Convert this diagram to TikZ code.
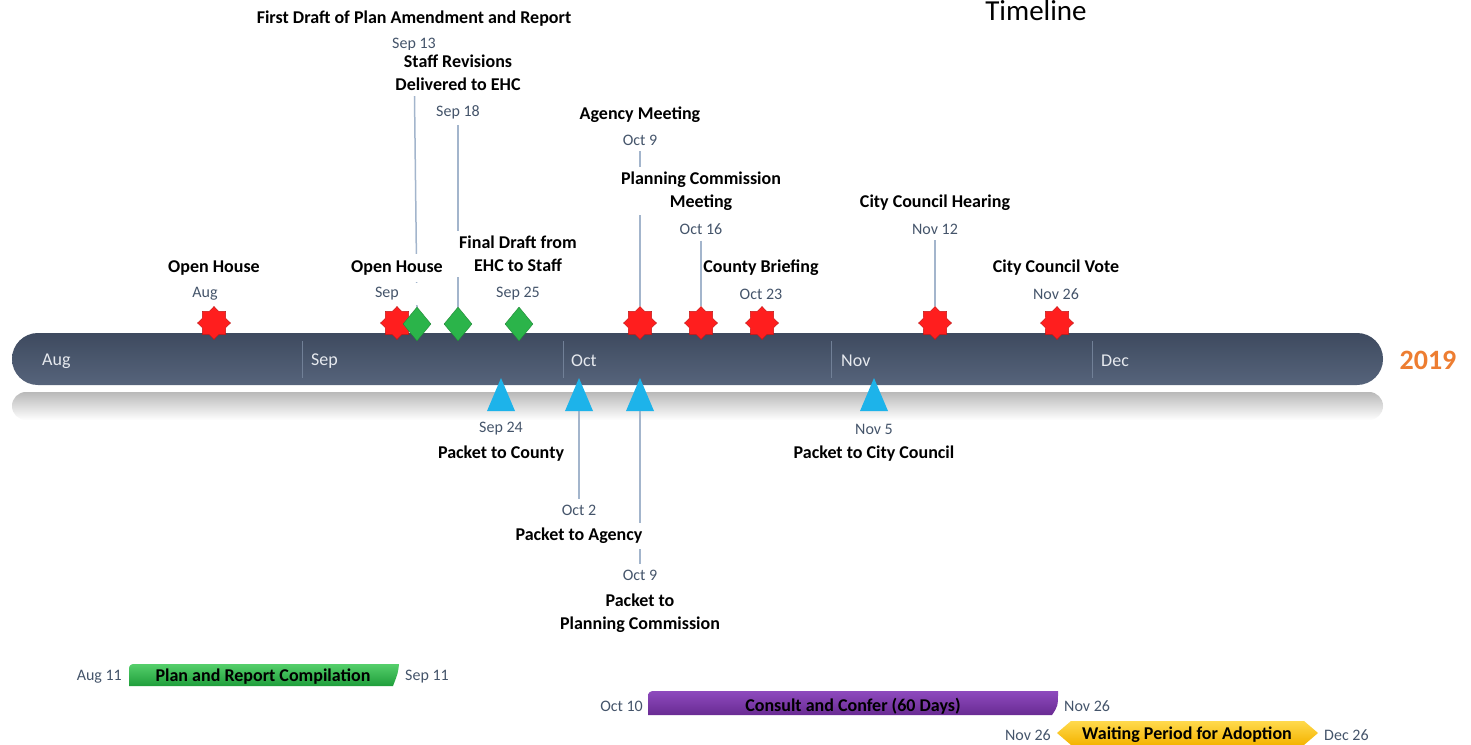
\documentclass[tikz,border=0pt]{standalone}
\usepackage{fontspec}
\setmainfont{Carlito}
\usetikzlibrary{shapes.geometric}
\definecolor{datecol}{HTML}{44546A}
\definecolor{monthcol}{HTML}{E6E9EE}
\definecolor{bartop}{HTML}{3E4A5F}
\definecolor{barbot}{HTML}{56647B}
\definecolor{divcol}{HTML}{718097}
\definecolor{starred}{HTML}{FF1E1E}
\definecolor{diagreen}{HTML}{2BB44A}
\definecolor{tricol}{HTML}{1DB3EA}
\definecolor{conncol}{HTML}{A3B5CC}
\definecolor{orng}{HTML}{ED7D31}
\definecolor{gtop}{HTML}{55CF6B}
\definecolor{gbot}{HTML}{1F9E3B}
\definecolor{ptop}{HTML}{8E4ABE}
\definecolor{pbot}{HTML}{692B93}
\definecolor{ytop}{HTML}{FFDA4D}
\definecolor{ybot}{HTML}{F4B300}
\pgfdeclarelayer{bg}
\pgfdeclarelayer{lines}
\pgfsetlayers{bg,lines,main}
\begin{document}
\begin{tikzpicture}[x=1pt,y=-1pt,
  ttl/.style={font=\fontsize{18}{23}\selectfont\bfseries, align=center, inner sep=2pt, yshift=-2pt},
  mask/.style={fill=white, inner xsep=3pt, inner ysep=5pt},
  dlab/.style={font=\fontsize{16}{19}\selectfont, text=datecol, inner sep=3pt, yshift=-2pt},
  mon/.style={font=\fontsize{18}{21}\selectfont, text=monthcol, anchor=west, inner sep=0pt, yshift=-2pt},
  redstar/.style={star, star points=8, star point ratio=1.32, minimum size=33pt, inner sep=0pt, fill=starred, draw=starred!75!black, line width=0.4pt},
  gdia/.style={diamond, minimum width=28pt, minimum height=34pt, inner sep=0pt, fill=diagreen, draw=diagreen!75!black, line width=0.4pt},
  conn/.style={draw=conncol, line width=1.5pt},
  gtxt/.style={font=\fontsize{18}{21}\selectfont\bfseries, inner sep=0pt, yshift=-2pt},
  gdate/.style={font=\fontsize{16}{19}\selectfont, text=datecol, inner sep=0pt, yshift=-2pt}
]
\useasboundingbox (0,0) rectangle (1471,744);

% title
\node[font=\fontsize{29}{32}\selectfont, anchor=base, inner sep=0pt] (title) at (1036,20) {Timeline};

% bar and reflection
\begin{pgfonlayer}{bg}
\shade[top color=gray!55, bottom color=white, rounded corners=13.9pt] (12,392) rectangle (1383,420);
\shade[top color=bartop, bottom color=barbot, rounded corners=25.9pt] (12,333) rectangle (1383,385);
\foreach \x in {302,563,831,1092} \draw[divcol, line width=1pt] (\x,341) -- (\x,378);
\end{pgfonlayer}
\node[mon] (mAug) at (42,359) {Aug};
\node[mon] (mSep) at (311,359) {Sep};
\node[mon] (mOct) at (571,359) {Oct};
\node[mon] (mNov) at (841,359) {Nov};
\node[mon] (mDec) at (1101,359) {Dec};
\node[font=\fontsize{28}{30}\selectfont\bfseries, text=orng, inner sep=0pt, yshift=-1pt] (year) at (1428,359) {2019};

% upper labels
\node[ttl] (tFD) at (414,17) {First Draft of Plan Amendment and Report};
\node[dlab] (dSep13) at (414,43) {Sep 13};
\node[ttl, mask] (tSR) at (458,71) {Staff Revisions\\Delivered to EHC};
\node[dlab] (dSep18) at (458,110) {Sep 18};
\node[ttl] (tAM) at (640,113) {Agency Meeting};
\node[dlab] (dOct9) at (640,138) {Oct 9};
\node[ttl, mask] (tPCM) at (701,189) {Planning Commission\\Meeting};
\node[dlab] (dOct16) at (701,227) {Oct 16};
\node[ttl] (tCCH) at (935,201) {City Council Hearing};
\node[dlab] (dNov12) at (935,227) {Nov 12};
\node[ttl, mask, minimum width=132pt] (tFD2) at (518,252) {Final Draft from\\EHC to Staff};
\node[dlab] (dSep25) at (518,292) {Sep 25};
\node[ttl] (tOH1) at (214,266) {Open House};
\node[dlab] (dAug) at (205,292) {Aug};
\node[ttl, mask, inner ysep=7pt] (tOH2) at (397,266) {Open House};
\node[dlab, mask, minimum width=66pt] (dSep) at (387,292) {Sep};
\node[ttl] (tCB) at (761,266) {County Briefing};
\node[dlab] (dOct23) at (761,292) {Oct 23};
\node[ttl] (tCCV) at (1056,266) {City Council Vote};
\node[dlab] (dNov26) at (1056,292) {Nov 26};

% markers above
\node[redstar] (s1) at (214,323) {};
\node[redstar] (s2) at (397,323) {};
\node[gdia] (g1) at (417,324) {};
\node[gdia] (g2) at (458,324) {};
\node[gdia] (g3) at (519,324) {};
\node[redstar] (s3) at (640,323) {};
\node[redstar] (s4) at (701,323) {};
\node[redstar] (s5) at (762,323) {};
\node[redstar] (s6) at (935,323) {};
\node[redstar] (s7) at (1057,323) {};

% triangles below
\fill[tricol] (487,411) -- (501,378) -- (515,411) -- cycle;
\fill[tricol] (565,411) -- (579,378) -- (593,411) -- cycle;
\fill[tricol] (626,411) -- (640,378) -- (654,411) -- cycle;
\fill[tricol] (860,411) -- (874,378) -- (888,411) -- cycle;
\coordinate (tb1) at (501,411);
\coordinate (tb2) at (579,411);
\coordinate (tb3) at (640,411);
\coordinate (tb4) at (874,411);

% lower labels
\node[dlab] (dSep24) at (501,427) {Sep 24};
\node[ttl] (tPTC) at (501,452) {Packet to County};
\node[dlab] (dOct2) at (579,508) {Oct 2};
\node[ttl, mask] (tPTA) at (579,534) {Packet to Agency};
\node[dlab] (dOct9b) at (640,573) {Oct 9};
\node[ttl] (tPTPC) at (640,611) {Packet to\\Planning Commission};
\node[dlab] (dNov5) at (874,427) {Nov 5};
\node[ttl] (tPTCC) at (874,452) {Packet to City Council};

% connectors
\begin{pgfonlayer}{lines}
\draw[conn, shorten <=3pt] (dSep13.south) -- (g1.north);
\draw[conn, shorten <=3pt] (dSep18.south) -- (g2.north);
\draw[conn, shorten <=3pt] (dOct9.south) -- (s3.north);
\draw[conn, shorten <=3pt] (dOct16.south) -- (s4.north);
\draw[conn, shorten <=3pt] (dNov12.south) -- (s6.north);
\draw[conn, shorten >=3pt] (tb2) -- (dOct2.north);
\draw[conn, shorten >=3pt] (tb3) -- (dOct9b.north);
\end{pgfonlayer}

% gantt bars
\shade[top color=gtop, bottom color=gbot] (129,686) -- (129,669) .. controls (129,665) and (131,664) .. (135,664) -- (399,664) .. controls (398,673) .. (393,686) -- cycle;
\node[gtxt] (bar1) at (263,675) {Plan and Report Compilation};
\node[gdate, anchor=east] (b1s) at (122,675) {Aug 11};
\node[gdate, anchor=west] (b1e) at (405,675) {Sep 11};

\shade[top color=ptop, bottom color=pbot] (648,715) -- (648,697) .. controls (648,692) and (650,691) .. (655,691) -- (1058,691) .. controls (1058,706) .. (1052,715) -- cycle;
\node[gtxt] (bar2) at (853,704) {Consult and Confer (60 Days)};
\node[gdate, anchor=east] (b2s) at (643,704) {Oct 10};
\node[gdate, anchor=west] (b2e) at (1064,704) {Nov 26};

\shade[top color=ytop, bottom color=ybot] (1057,733) -- (1071,721) -- (1304,721) -- (1318,733) -- (1304,745) -- (1071,745) -- cycle;
\node[gtxt] (bar3) at (1187,733) {Waiting Period for Adoption};
\node[gdate, anchor=east] (b3s) at (1051,733) {Nov 26};
\node[gdate, anchor=west] (b3e) at (1324,733) {Dec 26};
\end{tikzpicture}
\end{document}
